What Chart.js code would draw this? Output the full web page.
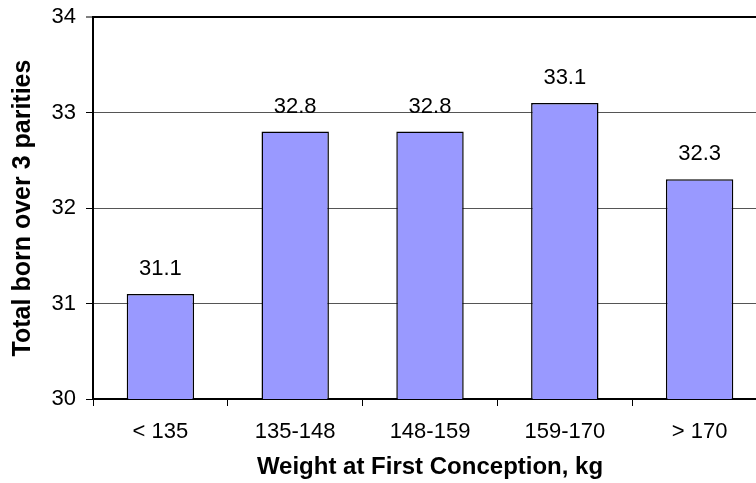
<!DOCTYPE html>
<html>
<head>
<meta charset="utf-8">
<script src="https://cdn.jsdelivr.net/npm/chart.js@4/dist/chart.umd.min.js"></script>
<style>
  html, body { margin: 0; padding: 0; background: #fff; overflow: hidden; }
  #wrap { width: 767px; height: 483px; }
</style>
</head>
<body>
<div id="wrap"><canvas id="c" width="767" height="483"></canvas></div>
<script>
// Weight classes at first conception (kg)
const categories = ['< 135', '135-148', '148-159', '159-170', '> 170'];
// Mean total born over the first three parities
const totalBorn = [31.1, 32.8, 32.8, 33.1, 32.3];
// Y axis range and step
const yMin = 30;
const yMax = 34;
const yStep = 1;

const FONT = "'Liberation Sans', Arial, Helvetica, sans-serif";

// Prints each bar's value above it
const barValueLabels = {
  id: 'barValueLabels',
  afterDatasetsDraw(chart) {
    const { ctx } = chart;
    const meta = chart.getDatasetMeta(0);
    ctx.save();
    ctx.font = `22px ${FONT}`;
    ctx.fillStyle = '#000';
    ctx.textAlign = 'center';
    ctx.textBaseline = 'alphabetic';
    meta.data.forEach((bar, i) => {
      const v = chart.data.datasets[0].data[i];
      ctx.fillText(v.toFixed(1), bar.x, bar.y - 19);
    });
    ctx.restore();
  }
};

new Chart(document.getElementById('c'), {
  type: 'bar',
  data: {
    labels: categories,
    datasets: [{
      data: totalBorn,
      backgroundColor: '#9999FF',
      borderColor: '#000',
      borderWidth: 1.5,
      borderSkipped: 'bottom',
      barPercentage: 0.5,
      categoryPercentage: 1.0
    }]
  },
  options: {
    responsive: false,
    devicePixelRatio: 1,
    animation: false,
    layout: { padding: { top: 17, left: 0, right: 0, bottom: 0 } },
    plugins: {
      legend: { display: false },
      tooltip: { enabled: false }
    },
    scales: {
      x: {
        offset: true,
        grid: {
          offset: true,
          drawOnChartArea: false,
          drawTicks: true,
          tickLength: 7,
          tickColor: '#000',
          tickWidth: 1
        },
        border: { color: '#000', width: 2 },
        ticks: {
          color: '#000',
          padding: 13,
          font: { family: FONT, size: 22 }
        },
        title: {
          display: true,
          text: 'Weight at First Conception, kg',
          color: '#000',
          font: { family: FONT, size: 24, weight: 'bold' },
          padding: { top: 0, bottom: 1 }
        },
        afterFit(scale) { scale.height = 84; }
      },
      y: {
        min: yMin,
        max: yMax,
        ticks: {
          stepSize: yStep,
          color: '#000',
          padding: 10,
          font: { family: FONT, size: 22 }
        },
        grid: {
          color: (c) => (c.tick && c.tick.value === yMax ? '#000' : (c.tick && c.tick.value === yMin ? 'rgba(0,0,0,0)' : '#555')),
          lineWidth: (c) => (c.tick && c.tick.value === yMax ? 2 : 1),
          tickLength: 7,
          tickColor: '#000',
          tickWidth: 1
        },
        border: { color: '#000', width: 2 },
        title: {
          display: true,
          text: 'Total born over 3 parities',
          color: '#000',
          font: { family: FONT, size: 25, weight: 'bold' },
          padding: { top: 8, bottom: 0 }
        },
        afterFit(scale) {
          scale.width = 93;
          scale.paddingTop = 0;
          scale.paddingBottom = 0;
        }
      }
    }
  },
  plugins: [barValueLabels]
});
</script>
</body>
</html>
